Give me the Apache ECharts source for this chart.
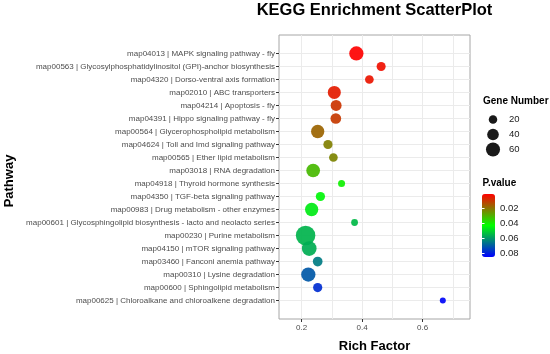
<!DOCTYPE html>
<html>
<head>
<meta charset="utf-8">
<script src="https://cdn.jsdelivr.net/npm/echarts@6/dist/echarts.min.js"></script>
<style>html,body{margin:0;padding:0;background:#fff;}#c{width:550px;height:354px;}</style>
</head>
<body>
<div id="c"></div>
<script>
const categories = [
  'map04013 | MAPK signaling pathway - fly',
  'map00563 | Glycosylphosphatidylinositol (GPI)-anchor biosynthesis',
  'map04320 | Dorso-ventral axis formation',
  'map02010 | ABC transporters',
  'map04214 | Apoptosis - fly',
  'map04391 | Hippo signaling pathway - fly',
  'map00564 | Glycerophospholipid metabolism',
  'map04624 | Toll and Imd signaling pathway',
  'map00565 | Ether lipid metabolism',
  'map03018 | RNA degradation',
  'map04918 | Thyroid hormone synthesis',
  'map04350 | TGF-beta signaling pathway',
  'map00983 | Drug metabolism - other enzymes',
  'map00601 | Glycosphingolipid biosynthesis - lacto and neolacto series',
  'map00230 | Purine metabolism',
  'map04150 | mTOR signaling pathway',
  'map03460 | Fanconi anemia pathway',
  'map00310 | Lysine degradation',
  'map00600 | Sphingolipid metabolism',
  'map00625 | Chloroalkane and chloroalkene degradation'
];
const richFactor = [0.381, 0.463, 0.424, 0.308, 0.314, 0.313, 0.253, 0.287, 0.305, 0.238,
                    0.332, 0.262, 0.233, 0.375, 0.213, 0.225, 0.253, 0.222, 0.253, 0.667];
const geneNumber = [62, 23, 21, 51, 35, 33, 53, 24, 21, 57,
                    13, 24, 53, 12, 120, 66, 27, 62, 24, 9];
const pValue = [0.0006, 0.003, 0.004, 0.005, 0.009, 0.010, 0.017, 0.0215, 0.022, 0.031,
                0.040, 0.044, 0.046, 0.054, 0.055, 0.056, 0.064, 0.070, 0.077, 0.0835];
const sizeBreaks = [20, 40, 60];
const xTicks = [0.2, 0.4, 0.6];
const xGrid = [0.2, 0.3, 0.4, 0.5, 0.6, 0.7];
const pTicks = [0.02, 0.04, 0.06, 0.08];

const pMin = 0.0005, pMax = 0.0845;
const FONT = '"Liberation Sans", Arial, Helvetica, sans-serif';
function sizeFn(n) { return 1.7 * Math.sqrt(n) + 0.9; }
const rowIdx = categories.map((_, i) => i);
const mainData = categories.map((c, i) => [richFactor[i], i, geneNumber[i], pValue[i]]);
const legendData = sizeBreaks.map(n => [0, String(n), n]);

const chart = echarts.init(document.getElementById('c'), null, {renderer: 'canvas'});
chart.setOption({
  animation: false,
  backgroundColor: '#ffffff',
  textStyle: {fontFamily: FONT},
  grid: [
    {left: 279, top: 35, width: 191, height: 284, show: true, borderColor: '#a6a6a6', borderWidth: 1, backgroundColor: 'transparent'},
    {left: 486, top: 112, width: 14, height: 45},
    {left: 482, top: 194, width: 13, height: 63}
  ],
  xAxis: [
    {gridIndex: 0, type: 'value', min: 0.125, max: 0.757,
     axisLine: {show: false}, axisTick: {show: false, customValues: xGrid},
     axisLabel: {show: false},
     splitLine: {show: true, lineStyle: {color: '#ebebeb', width: 1}}},
    {gridIndex: 0, type: 'value', min: 0.125, max: 0.757, position: 'bottom',
     axisLine: {show: false},
     axisTick: {show: true, length: 3, customValues: xTicks, lineStyle: {color: '#333333'}},
     axisLabel: {customValues: xTicks, formatter: v => v.toFixed(1), fontSize: 8, color: '#4d4d4d', margin: 5, fontFamily: FONT},
     splitLine: {show: false}},
    {gridIndex: 1, type: 'value', min: -1, max: 1, show: false},
    {gridIndex: 2, type: 'value', min: 0, max: 1, show: false}
  ],
  yAxis: [
    {gridIndex: 0, type: 'value', min: -1.42, max: 20.42, inverse: true,
     axisLine: {show: false},
     axisTick: {show: true, length: 3, customValues: rowIdx, lineStyle: {color: '#333333'}},
     axisLabel: {customValues: rowIdx, formatter: v => categories[Math.round(v)] || '', fontSize: 8, color: '#4d4d4d', margin: 4, fontFamily: FONT},
     splitLine: {show: true, lineStyle: {color: '#ebebeb', width: 1}}},
    {gridIndex: 1, type: 'category', data: sizeBreaks.map(String), inverse: true, position: 'right',
     axisLine: {show: false}, axisTick: {show: false},
     axisLabel: {fontSize: 9.5, color: '#1a1a1a', margin: 9, fontFamily: FONT},
     splitLine: {show: false}},
    {gridIndex: 2, type: 'value', min: pMin, max: pMax, inverse: true, position: 'right', z: 10,
     axisLine: {show: false},
     axisTick: {show: true, inside: true, length: 2.5, customValues: pTicks, lineStyle: {color: '#ffffff', width: 1}},
     axisLabel: {customValues: pTicks, formatter: v => v.toFixed(2), fontSize: 9.5, color: '#1a1a1a', margin: 5, fontFamily: FONT},
     splitLine: {show: false}},
    {gridIndex: 2, type: 'value', min: pMin, max: pMax, inverse: true, position: 'left', z: 10,
     axisLine: {show: false},
     axisTick: {show: true, inside: true, length: 2.5, customValues: pTicks, lineStyle: {color: '#ffffff', width: 1}},
     axisLabel: {show: false},
     splitLine: {show: false}}
  ],
  visualMap: [{
    type: 'continuous', min: pMin, max: pMax, dimension: 3, seriesIndex: 0,
    inRange: {color: ['#ff0000', '#00ff00', '#0000ff']},
    inverse: true, orient: 'vertical', left: 482, top: 194, itemWidth: 13, itemHeight: 63,
    padding: 0, calculable: false, text: null, hoverLink: false, showLabel: false
  }],
  series: [
    {type: 'scatter', xAxisIndex: 0, yAxisIndex: 0, data: mainData,
     symbolSize: v => sizeFn(v[2]), itemStyle: {opacity: 0.92}, z: 5},
    {type: 'scatter', xAxisIndex: 2, yAxisIndex: 1, data: legendData,
     symbolSize: v => sizeFn(v[2]), itemStyle: {color: '#1a1a1a', opacity: 1}}
  ],
  graphic: [
    {type: 'text', x: 374.5, y: 10.5, style: {text: 'KEGG Enrichment ScatterPlot', font: 'bold 16.5px ' + FONT, fill: '#000', align: 'center', verticalAlign: 'middle', textAlign: 'center', textVerticalAlign: 'middle'}},
    {type: 'text', x: 374.5, y: 346, style: {text: 'Rich Factor', font: 'bold 13px ' + FONT, fill: '#000', align: 'center', verticalAlign: 'middle', textAlign: 'center', textVerticalAlign: 'middle'}},
    {type: 'text', x: 9.5, y: 181, rotation: Math.PI / 2, style: {text: 'Pathway', font: 'bold 13px ' + FONT, fill: '#000', align: 'center', verticalAlign: 'middle', textAlign: 'center', textVerticalAlign: 'middle'}},
    {type: 'text', x: 483, y: 101, style: {text: 'Gene Number', font: 'bold 10px ' + FONT, fill: '#000', align: 'left', verticalAlign: 'middle', textAlign: 'left', textVerticalAlign: 'middle'}},
    {type: 'text', x: 482.5, y: 183, style: {text: 'P.value', font: 'bold 10px ' + FONT, fill: '#000', align: 'left', verticalAlign: 'middle', textAlign: 'left', textVerticalAlign: 'middle'}}
  ]
});
</script>
</body>
</html>
